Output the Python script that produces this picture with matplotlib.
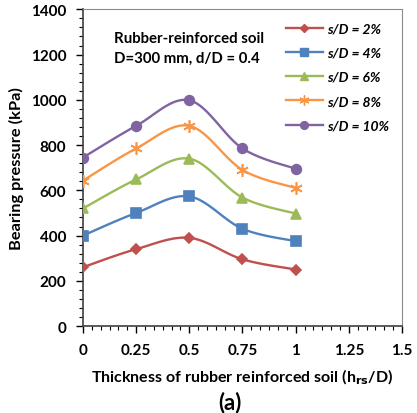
import matplotlib
matplotlib.use("Agg")
import matplotlib.pyplot as plt
import numpy as np
from matplotlib.ticker import AutoMinorLocator, MultipleLocator

plt.rcParams["font.family"] = ["Lato", "DejaVu Sans"]
plt.rcParams["font.weight"] = "bold"

thickness = [0, 0.25, 0.5, 0.75, 1.0]
labels = ["s/D = 2%", "s/D = 4%", "s/D = 6%", "s/D = 8%", "s/D = 10%"]
sd_2 = [260, 340, 390, 295, 250]
sd_4 = [400, 500, 573, 430, 375]
sd_6 = [520, 648, 740, 568, 497]
sd_8 = [643, 785, 885, 690, 610]
sd_10 = [745, 885, 998, 785, 695]

colors = ["#C0504D", "#4F81BD", "#9BBB59", "#F79646", "#8064A2"]
markers = ["D", "s", "^", (6, 2, 0), "o"]
sizes = [5, 7, 7, 9, 7]


def smooth(x, y, n=30):
    # excel-like smoothed line (cardinal spline through the points)
    x = np.asarray(x, float)
    y = np.asarray(y, float)
    px = np.concatenate([[x[0]], x, [x[-1]]])
    py = np.concatenate([[y[0]], y, [y[-1]]])
    xs, ys = [], []
    t = np.linspace(0, 1, n)
    for i in range(1, len(px) - 2):
        p0, p1, p2, p3 = [np.array([px[j], py[j]]) for j in range(i - 1, i + 3)]
        c1 = p1 + (p2 - p0) / 6
        c2 = p2 - (p3 - p1) / 6
        b = ((1 - t) ** 3)[:, None] * p1 + (3 * (1 - t) ** 2 * t)[:, None] * c1 \
            + (3 * (1 - t) * t ** 2)[:, None] * c2 + (t ** 3)[:, None] * p2
        xs.extend(b[:, 0])
        ys.extend(b[:, 1])
    return xs, ys


fig = plt.figure(figsize=(4.17, 4.14), dpi=100)
ax = fig.add_axes([0.199, 0.21, 0.765, 0.765])

for vals, lab, c, m, s in zip([sd_2, sd_4, sd_6, sd_8, sd_10], labels, colors, markers, sizes):
    sx, sy = smooth(thickness, vals)
    ax.plot(sx, sy, color=c, lw=1.7, zorder=2)
    ax.plot(thickness, vals, linestyle="none", marker=m, color=c, ms=s,
            markeredgewidth=1.2, zorder=3)
    ax.plot([], [], color=c, lw=1.7, marker=m, ms=s * 0.8, label=lab)

ax.set_xlim(0, 1.5)
ax.set_ylim(0, 1400)
ax.yaxis.set_major_locator(MultipleLocator(200))
ax.set_xticks(thickness + [1.25, 1.5])
ax.set_xticklabels(["0", "0.25", "0.5", "0.75", "1", "1.25", "1.5"])
ax.xaxis.set_minor_locator(AutoMinorLocator(6))
ax.yaxis.set_minor_locator(AutoMinorLocator(5))
ax.tick_params(which="major", direction="out", length=5, width=1, labelsize=11, pad=7)
ax.tick_params(which="minor", direction="out", length=3, width=0.8)
for lbl in ax.get_xticklabels() + ax.get_yticklabels():
    lbl.set_fontweight("bold")

for side in ["top", "right"]:
    ax.spines[side].set_color("#8c8c8c")
    ax.spines[side].set_linewidth(0.8)
for side in ["left", "bottom"]:
    ax.spines[side].set_color("#404040")
    ax.spines[side].set_linewidth(1.2)

ax.set_ylabel("Bearing pressure (kPa)", fontsize=11.8, fontweight="bold", labelpad=5)
ax.set_xlabel("Thickness of rubber reinforced soil (h$_{\\mathbf{rs}}$/D)",
              fontsize=11.5, fontweight="bold", labelpad=7)
fig.text(0.552, 0.012, "(a)", fontsize=16, fontweight="bold", ha="center")

ax.text(0.145, 1230, "Rubber-reinforced soil\nD=300 mm, d/D = 0.4", fontsize=10.8,
        fontweight="bold", va="center", linespacing=1.5)

leg = ax.legend(loc="upper right", frameon=False, handlelength=2.7,
                labelspacing=0.88, borderaxespad=0.75, handletextpad=0.25,
                borderpad=0.2,
                prop={"style": "italic", "weight": "bold", "size": 10})

fig.savefig("out.png", dpi=100)
